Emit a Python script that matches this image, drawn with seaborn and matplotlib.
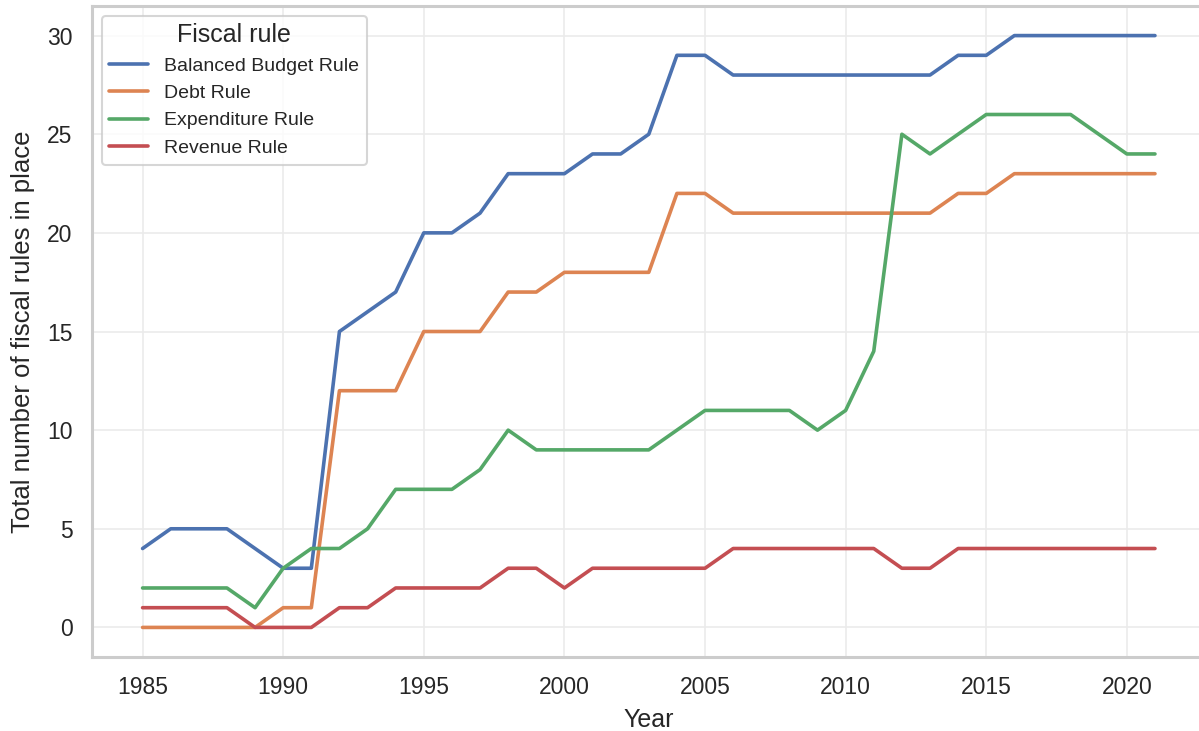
import pandas as pd
import matplotlib.pyplot as plt
import seaborn as sns

years = list(range(1985, 2022))

balanced_budget = [4, 5, 5, 5, 4, 3, 3, 15, 16, 17, 20, 20, 21, 23, 23, 23, 24, 24, 25,
                   29, 29, 28, 28, 28, 28, 28, 28, 28, 28, 29, 29, 30, 30, 30, 30, 30, 30]
debt = [0, 0, 0, 0, 0, 1, 1, 12, 12, 12, 15, 15, 15, 17, 17, 18, 18, 18, 18,
        22, 22, 21, 21, 21, 21, 21, 21, 21, 21, 22, 22, 23, 23, 23, 23, 23, 23]
expenditure = [2, 2, 2, 2, 1, 3, 4, 4, 5, 7, 7, 7, 8, 10, 9, 9, 9, 9, 9,
               10, 11, 11, 11, 11, 10, 11, 14, 25, 24, 25, 26, 26, 26, 26, 25, 24, 24]
revenue = [1, 1, 1, 1, 0, 0, 0, 1, 1, 2, 2, 2, 2, 3, 3, 2, 3, 3, 3,
           3, 3, 4, 4, 4, 4, 4, 4, 3, 3, 4, 4, 4, 4, 4, 4, 4, 4]

rule_names = ["Balanced Budget Rule", "Debt Rule", "Expenditure Rule", "Revenue Rule"]

frames = []
for name, vals in zip(rule_names, [balanced_budget, debt, expenditure, revenue]):
    frames.append(pd.DataFrame({"Year": years, "Count": vals, "Fiscal rule": name}))
df = pd.concat(frames, ignore_index=True)

sns.set_theme(style="whitegrid", context="talk")
plt.rcParams["font.family"] = ["Liberation Sans", "DejaVu Sans"]

fig, ax = plt.subplots(figsize=(11.99, 7.31), dpi=100)
sns.lineplot(data=df, x="Year", y="Count", hue="Fiscal rule", linewidth=2.6, ax=ax)

for side in ["left", "right", "top", "bottom"]:
    ax.spines[side].set_visible(True)
    ax.spines[side].set_color("#cccccc")
    ax.spines[side].set_linewidth(2.2)

ax.set_xlabel("Year", fontsize=18, labelpad=6)
ax.set_ylabel("Total number of fiscal rules in place", fontsize=18.5, labelpad=9)
ax.tick_params(axis="both", labelsize=16.5, length=0, pad=14)
ax.grid(color="#ebebeb", linewidth=1.2)

leg = ax.legend(title="Fiscal rule", fontsize=14, title_fontsize=18, loc="upper left")

plt.subplots_adjust(left=0.0767, right=1.0055, top=0.9918, bottom=0.1012)
plt.savefig("out.png", dpi=100)
